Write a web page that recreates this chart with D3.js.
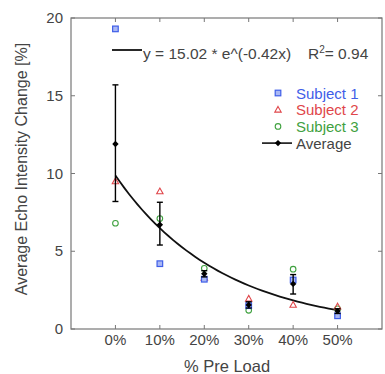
<!DOCTYPE html>
<html>
<head>
<meta charset="utf-8">
<script src="https://cdn.jsdelivr.net/npm/d3@7"></script>
<style>
  html, body { margin: 0; padding: 0; background: #fff; }
  text { font-family: "Liberation Sans", Arial, sans-serif; }
</style>
</head>
<body>
<div id="chart"></div>
<script>
const preLoad = [0, 10, 20, 30, 40, 50];
const subject1 = [19.3, 4.2, 3.2, 1.5, 3.15, 0.85];
const subject2 = [9.5, 8.85, 3.3, 1.95, 1.55, 1.45];
const subject3 = [6.8, 7.1, 3.9, 1.2, 3.85, 1.3];
const average = [11.9, 6.7, 3.55, 1.55, 2.9, 1.15];
const errLow = [8.2, 5.4, 3.35, 1.35, 2.25, 1.0];
const errHigh = [15.7, 8.15, 3.75, 1.75, 3.5, 1.3];
const fitA = 15.02, fitB = -0.42;
const yTicks = [0, 5, 10, 15, 20];

const width = 385, height = 374;
const svg = d3.select('#chart').append('svg')
    .attr('width', width)
    .attr('height', height);

const x = d3.scaleLinear().domain([-10, 60]).range([71, 382]);
const y = d3.scaleLinear().domain([0, 20]).range([329, 18]);

const axisColor = '#777';
const textColor = '#444';

// frame
svg.append('rect')
    .attr('x', x(-10)).attr('y', y(20))
    .attr('width', x(60) - x(-10)).attr('height', y(0) - y(20))
    .attr('fill', 'none').attr('stroke', axisColor).attr('stroke-width', 1.2);

// ticks, all pointing inward
const tl = 4;
preLoad.forEach(p => {
    svg.append('line').attr('x1', x(p)).attr('x2', x(p)).attr('y1', y(0)).attr('y2', y(0) - tl)
        .attr('stroke', axisColor);
    svg.append('line').attr('x1', x(p)).attr('x2', x(p)).attr('y1', y(20)).attr('y2', y(20) + tl)
        .attr('stroke', axisColor);
    svg.append('text')
        .attr('x', x(p)).attr('y', 345)
        .attr('text-anchor', 'middle')
        .attr('font-size', 15)
        .attr('fill', textColor)
        .text(p + '%');
});
yTicks.forEach(t => {
    svg.append('line').attr('x1', x(-10)).attr('x2', x(-10) + tl).attr('y1', y(t)).attr('y2', y(t))
        .attr('stroke', axisColor);
    svg.append('line').attr('x1', x(60)).attr('x2', x(60) - tl).attr('y1', y(t)).attr('y2', y(t))
        .attr('stroke', axisColor);
    svg.append('text')
        .attr('x', 63).attr('y', y(t) + 5)
        .attr('text-anchor', 'end')
        .attr('font-size', 15)
        .attr('fill', textColor)
        .text(t);
});

// axis titles
svg.append('text')
    .attr('x', 227).attr('y', 372)
    .attr('text-anchor', 'middle')
    .attr('font-size', 16.5)
    .attr('fill', textColor)
    .text('% Pre Load');
svg.append('text')
    .attr('transform', 'translate(27,169) rotate(-90)')
    .attr('text-anchor', 'middle')
    .attr('font-size', 16)
    .attr('fill', textColor)
    .text('Average Echo Intensity Change [%]');

// fit curve
const fitPts = d3.range(0, 50.01, 1).map(p => [p, fitA * Math.exp(fitB * (p / 10 + 1))]);
svg.append('path')
    .datum(fitPts)
    .attr('d', d3.line().x(d => x(d[0])).y(d => y(d[1])))
    .attr('fill', 'none').attr('stroke', '#111').attr('stroke-width', 1.8);

const blue = '#3f5ee8', red = '#e0464a', green = '#3fa13f';

function square(g, cx, cy) {
    g.append('rect').attr('x', cx - 2.8).attr('y', cy - 2.8).attr('width', 5.6).attr('height', 5.6)
        .attr('fill', '#aab8f4').attr('stroke', blue).attr('stroke-width', 1.2);
}
function tri(g, cx, cy) {
    g.append('path').attr('d', `M${cx},${cy - 3.3}L${cx + 3.2},${cy + 2.4}L${cx - 3.2},${cy + 2.4}Z`)
        .attr('fill', 'none').attr('stroke', red).attr('stroke-width', 1.1);
}
function circ(g, cx, cy) {
    g.append('circle').attr('cx', cx).attr('cy', cy).attr('r', 2.8)
        .attr('fill', 'none').attr('stroke', green).attr('stroke-width', 1.1);
}
function diamond(g, cx, cy) {
    g.append('path').attr('d', `M${cx},${cy - 3.2}L${cx + 3.2},${cy}L${cx},${cy + 3.2}L${cx - 3.2},${cy}Z`)
        .attr('fill', '#000');
}

const marks = svg.append('g');
preLoad.forEach((p, i) => {
    circ(marks, x(p), y(subject3[i]));
    tri(marks, x(p), y(subject2[i]));
    square(marks, x(p), y(subject1[i]));
    // error bars
    const cx = x(p);
    marks.append('line').attr('x1', cx).attr('x2', cx).attr('y1', y(errLow[i])).attr('y2', y(errHigh[i]))
        .attr('stroke', '#000').attr('stroke-width', 1.4);
    [errLow[i], errHigh[i]].forEach(v => {
        marks.append('line').attr('x1', cx - 3).attr('x2', cx + 3).attr('y1', y(v)).attr('y2', y(v))
            .attr('stroke', '#000').attr('stroke-width', 1.4);
    });
    diamond(marks, cx, y(average[i]));
});

// equation legend
svg.append('line').attr('x1', 112).attr('x2', 142).attr('y1', 50).attr('y2', 50)
    .attr('stroke', '#111').attr('stroke-width', 1.8);
svg.append('text')
    .attr('x', 143).attr('y', 59)
    .attr('font-size', 15.5)
    .attr('fill', textColor)
    .text('y = 15.02 * e^(-0.42x)');
const r2 = svg.append('text')
    .attr('x', 308).attr('y', 59)
    .attr('font-size', 15.5)
    .attr('fill', textColor);
r2.append('tspan').text('R');
r2.append('tspan').attr('dy', -6).attr('font-size', 10).text('2');
r2.append('tspan').attr('dy', 6).text('= 0.94');

// series legend
const legend = [
    { name: 'Subject 1', color: blue, draw: square },
    { name: 'Subject 2', color: red, draw: tri },
    { name: 'Subject 3', color: green, draw: circ },
    { name: 'Average', color: textColor, draw: null }
];
legend.forEach((d, i) => {
    const ly = 93 + i * 16.7;
    if (d.draw) {
        d.draw(svg, 278, ly);
    } else {
        svg.append('line').attr('x1', 262).attr('x2', 292).attr('y1', ly).attr('y2', ly)
            .attr('stroke', '#111').attr('stroke-width', 1.6);
        diamond(svg, 278, ly);
    }
    svg.append('text')
        .attr('x', 296).attr('y', ly + 5.5)
        .attr('font-size', 15)
        .attr('fill', d.color)
        .text(d.name);
});
</script>
</body>
</html>
